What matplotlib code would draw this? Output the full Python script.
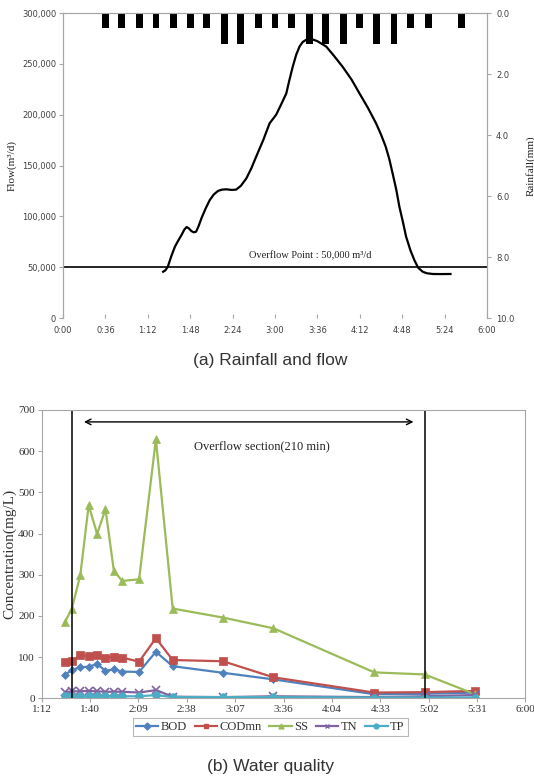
import matplotlib
matplotlib.use("Agg")
import matplotlib.pyplot as plt
from matplotlib.lines import Line2D

# ---- (a) rainfall and flow ----
rain_t = [36, 50, 65, 79, 94, 108, 122, 137, 151, 166, 180, 194, 209, 223,
          238, 252, 266, 281, 295, 310, 324, 338]
rain_mm = [0.5, 0.5, 0.5, 0.5, 0.5, 0.5, 0.5, 1.0, 1.0, 0.5, 0.5, 0.5, 1.0, 1.0,
           1.0, 0.5, 1.0, 1.0, 0.5, 0.5, 0.0, 0.5]

flow_t = [85, 87, 89, 92, 95, 98, 100.6, 103, 105, 107, 109, 111, 113, 115,
          117.5, 121, 124.6, 128, 131.6, 135, 138.7, 143, 147, 151, 155.7,
          160, 164, 170, 175.4, 181, 186, 189.6, 192, 195, 198, 200.8, 203.5,
          206.5, 209, 212, 216, 223.5, 230, 237.5, 245, 251.7, 259, 265.8, 270,
          274, 277, 279.9, 283, 285.6, 288.5, 291.3, 295, 298.3, 301.5, 305.4,
          309, 314, 320, 329]
flow_q = [45500, 47000, 50500, 61000, 70100, 76500, 81600, 87000, 89500, 88000,
          85500, 84300, 84900, 90000, 98000, 107500, 116000, 121500, 125000,
          126300, 126600, 126000, 126300, 130000, 137400, 147500, 158700, 175000,
          191500, 200000, 212000, 221000, 233000, 247000, 259000, 267000, 271500,
          273700, 274300, 274000, 272300, 267000, 258000, 247000, 234500, 221000,
          206500, 191500, 180500, 168500, 156500, 142000, 126000, 109500, 95000,
          80000, 66500, 57000, 49500, 45500, 44000, 43300, 43200, 43300]

overflow_q = 50000
top_ticks = [0, 36, 72, 108, 144, 180, 216, 252, 288, 324, 360]
top_labels = ["0:00", "0:36", "1:12", "1:48", "2:24", "3:00", "3:36",
              "4:12", "4:48", "5:24", "6:00"]

# ---- (b) water quality ----
wq_t = [86, 90, 95, 100, 105, 110, 115, 120, 130, 140, 150, 180, 210, 270, 300, 330]
bod = [57, 69, 75, 77, 83, 67, 70, 65, 64, 113, 78, 62, 46, 10, 11, 14]
codmn = [89, 91, 104, 103, 105, 99, 101, 99, 89, 146, 93, 90, 51, 14, 15, 18]
ss = [186, 218, 299, 469, 399, 459, 309, 285, 289, 629, 218, 196, 170, 63, 58, 10]
tn = [15, 17, 17, 18, 17, 16, 16, 16, 14, 20, 4, 3, 5, 3, 5, 8]
tp = [5, 5, 5, 5, 5, 5, 5, 5, 5, 8, 3, 3, 3, 2, 2, 2]

bot_ticks = [72 + 28.8 * i for i in range(11)]
bot_labels = ["1:12", "1:40", "2:09", "2:38", "3:07", "3:36", "4:04",
              "4:33", "5:02", "5:31", "6:00"]
overflow_start, overflow_end = 90, 300

serif = ["Liberation Serif", "DejaVu Serif"]
grey = "#a6a6a6"
txt = "#404040"

fig = plt.figure(figsize=(5.34, 7.8), dpi=100)

# top chart
ax1 = fig.add_axes([0.118, 0.5923, 0.794, 0.391])
ax1.plot(flow_t, flow_q, color="black", lw=1.6, solid_joinstyle="round")
ax1.axhline(overflow_q, color="black", lw=1.2)
ax1.text(210, 57000, "Overflow Point : 50,000 m\u00b3/d", family=serif,
         fontsize=7.5, color="#222222", ha="center", va="bottom")
ax1.set_xlim(0, 360)
ax1.set_ylim(0, 300000)
ax1.set_xticks(top_ticks)
ax1.set_xticklabels(top_labels)
ax1.set_yticks(range(0, 300001, 50000))
ax1.set_yticklabels([f"{v:,}" for v in range(0, 300001, 50000)])
ax1.set_ylabel("Flow(m\u00b3/d)", family=serif, fontsize=8, color="#222222", labelpad=4)
ax1.tick_params(labelsize=6, colors=grey, labelcolor=txt, length=3, pad=2)
ax1.tick_params(axis="x", direction="in", length=3, pad=6)
ax1.spines["bottom"].set_visible(False)
for s in ["left", "right", "top"]:
    ax1.spines[s].set_color(grey)

ax2 = ax1.twinx()
ax2.bar(rain_t, rain_mm, width=5.8, color="black")
ax2.set_ylim(10, 0)
ax2.set_yticks([0, 2, 4, 6, 8, 10])
ax2.set_yticklabels([f"{v:.1f}" for v in [0, 2, 4, 6, 8, 10]])
ax2.set_ylabel("Rainfall(mm)", family=serif, fontsize=8, color="#222222", labelpad=8)
ax2.tick_params(labelsize=6, colors=grey, labelcolor=txt, length=3)
ax2.spines["bottom"].set_visible(False)
for s in ["left", "right", "top"]:
    ax2.spines[s].set_color(grey)

fig.text(0.506, 1 - 361 / 780, "(a) Rainfall and flow", ha="center", va="center",
         fontsize=12.5, color="#333333", family="Liberation Sans")

# bottom chart
ax3 = fig.add_axes([0.078, 0.1047, 0.906, 0.3697])
series = [
    ("BOD", bod, "#4F81BD", "D", 4),
    ("CODmn", codmn, "#C0504D", "s", 5.5),
    ("SS", ss, "#9BBB59", "^", 5.5),
    ("TN", tn, "#8064A2", "x", 5.5),
    ("TP", tp, "#4BACC6", "o", 5.5),
]
handles = []
for name, vals, col, mk, ms in series:
    ax3.plot(wq_t, vals, color=col, lw=1.6, marker=mk, markersize=ms,
             markeredgewidth=1.2 if mk == "x" else 0.5, markeredgecolor=col)
    handles.append(Line2D([0], [0], color=col, lw=1.6, marker=mk, markersize=3.5,
                          markeredgecolor=col, label=name))
ax3.axvline(overflow_start, color="black", lw=1.1)
ax3.axvline(overflow_end, color="black", lw=1.1)
ax3.annotate("", xy=(95.5, 671), xytext=(295, 671),
             arrowprops=dict(arrowstyle="<->", color="black", lw=1))
ax3.text(203, 611, "Overflow section(210 min)", family=serif, fontsize=9,
         ha="center", va="center", color="#222222")
ax3.set_xlim(72, 360)
ax3.set_ylim(0, 700)
ax3.set_xticks(bot_ticks)
ax3.set_xticklabels(bot_labels)
ax3.set_yticks(range(0, 701, 100))
ax3.set_ylabel("Concentration(mg/L)", family=serif, fontsize=11, color="#333333",
               labelpad=1)
ax3.tick_params(labelsize=8, colors=grey, labelcolor="#333333", length=3, pad=2)
for lab in ax3.get_xticklabels() + ax3.get_yticklabels():
    lab.set_family(serif)
for s in ax3.spines.values():
    s.set_color(grey)

leg = fig.legend(handles=handles, loc="center", bbox_to_anchor=(0.506, 1 - 727 / 780),
                 ncol=5, prop={"family": serif, "size": 9}, frameon=True,
                 fancybox=False, handlelength=1.8, handletextpad=0.2,
                 columnspacing=0.6, borderpad=0.25, labelcolor="#333333")
leg.get_frame().set_edgecolor(grey)
leg.get_frame().set_linewidth(0.8)

fig.text(0.506, 1 - 766 / 780, "(b) Water quality", ha="center", va="center",
         fontsize=12.5, color="#333333", family="Liberation Sans")

fig.savefig("out.png", dpi=100)
